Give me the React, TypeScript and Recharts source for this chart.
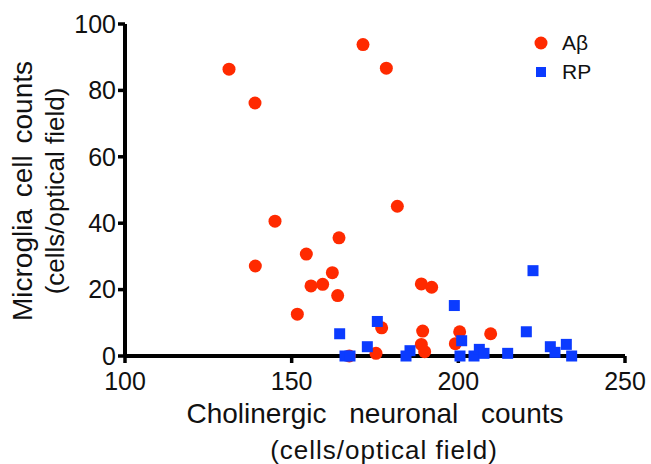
import { ScatterChart, Scatter, XAxis, YAxis, Legend, Label } from 'recharts'

const abX = [131.2, 139, 171.4, 178.4, 181.7, 145, 139.1, 151.7, 164.2, 154.4, 162.2, 155.8, 159.3, 163.8, 188.9, 192, 177, 189.3, 188.9, 189.9, 175.3, 167.3, 200.4, 199.1, 209.7]
const abY = [86.4, 76.2, 93.8, 86.7, 45.1, 40.6, 27.1, 12.6, 35.6, 30.7, 25.1, 21.1, 21.6, 18.2, 21.7, 20.7, 8.5, 7.5, 3.5, 1.3, 0.8, 0, 7.3, 3.7, 6.7]

const rpX = [164.4, 175.7, 172.7, 166, 167.5, 185.5, 184.3, 198.8, 222.4, 201, 220.4, 200.5, 204.7, 206.3, 207.7, 214.8, 227.6, 229, 232.4, 234]
const rpY = [6.7, 10.4, 2.8, 0, 0, 1.6, 0, 15.2, 25.7, 4.6, 7.3, 0, 0, 2, 0.8, 0.8, 2.8, 1.1, 3.5, 0]

const xTicks = [100, 150, 200, 250]
const yTicks = [0, 20, 40, 60, 80, 100]

const RED = '#ff2a00'
const BLUE = '#0b3bff'
const FONT = '"Liberation Sans", Arial, sans-serif'

const abData = abX.map((x, i) => ({ x, y: abY[i] }))
const rpData = rpX.map((x, i) => ({ x, y: rpY[i] }))

const Dot = (props: any) => <circle cx={props.cx} cy={props.cy} r={6.5} fill={RED} />
const Square = (props: any) => (
  <rect x={props.cx - 5.5} y={props.cy - 5.5} width={11} height={11} fill={BLUE} />
)

const XTitle = (props: any) => {
  const { x, y, width } = props.viewBox
  const cx = x + width / 2
  return (
    <g fontFamily={FONT} fill="#111" textAnchor="middle">
      <text x={cx} y={y + 67} fontSize={28} wordSpacing={15}>Cholinergic neuronal counts</text>
      <text x={cx + 9} y={y + 103} fontSize={26} letterSpacing={1}>(cells/optical field)</text>
    </g>
  )
}

const YTitle = (props: any) => {
  const { y, height } = props.viewBox
  const cy = y + height / 2 + 1
  return (
    <g fontFamily={FONT} fill="#111" textAnchor="middle">
      <text x={32} y={cy} fontSize={28} wordSpacing={4} transform={`rotate(-90, 32, ${cy})`}>
        Microglia cell counts
      </text>
      <text x={64} y={cy} fontSize={26} transform={`rotate(-90, 64, ${cy})`}>
        (cells/optical field)
      </text>
    </g>
  )
}

const LegendBox = () => (
  <div style={{ fontFamily: FONT, fontSize: 21, color: '#111', lineHeight: '29px' }}>
    <div style={{ display: 'flex', alignItems: 'center' }}>
      <svg width={14} height={14} style={{ marginRight: 14 }}>
        <circle cx={7} cy={7} r={6.5} fill={RED} />
      </svg>
      Aβ
    </div>
    <div style={{ display: 'flex', alignItems: 'center' }}>
      <svg width={14} height={14} style={{ marginRight: 14 }}>
        <rect x={2} y={2} width={10} height={10} fill={BLUE} />
      </svg>
      RP
    </div>
  </div>
)

export default function App() {
  return (
    <div style={{ position: 'absolute', left: 0, top: 0, width: 651, height: 464, background: '#fff' }}>
      <ScatterChart width={651} height={464} margin={{ top: 24, right: 26, left: 0, bottom: 0 }}>
        <XAxis
          type="number"
          dataKey="x"
          domain={[100, 250]}
          ticks={xTicks}
          height={108}
          axisLine={{ stroke: '#000', strokeWidth: 4 }}
          tickLine={{ stroke: '#000', strokeWidth: 3.5 }}
          tickSize={7}
          tickMargin={9}
          tick={{ fontSize: 25, fill: '#111', fontFamily: FONT }}
          interval={0}
        >
          <Label content={<XTitle />} />
        </XAxis>
        <YAxis
          type="number"
          dataKey="y"
          domain={[0, 100]}
          ticks={yTicks}
          width={125}
          axisLine={{ stroke: '#000', strokeWidth: 4 }}
          tickLine={{ stroke: '#000', strokeWidth: 3.5 }}
          tickSize={7}
          tickMargin={2}
          tick={{ fontSize: 25, fill: '#111', fontFamily: FONT }}
          interval={0}
        >
          <Label content={<YTitle />} />
        </YAxis>
        <Legend
          layout="vertical"
          align="center"
          verticalAlign="middle"
          content={<LegendBox />}
          wrapperStyle={{ top: 28, left: 534, width: 90 }}
        />
        <Scatter name="Aβ" data={abData} shape={Dot} isAnimationActive={false} />
        <Scatter name="RP" data={rpData} shape={Square} isAnimationActive={false} />
      </ScatterChart>
    </div>
  )
}
